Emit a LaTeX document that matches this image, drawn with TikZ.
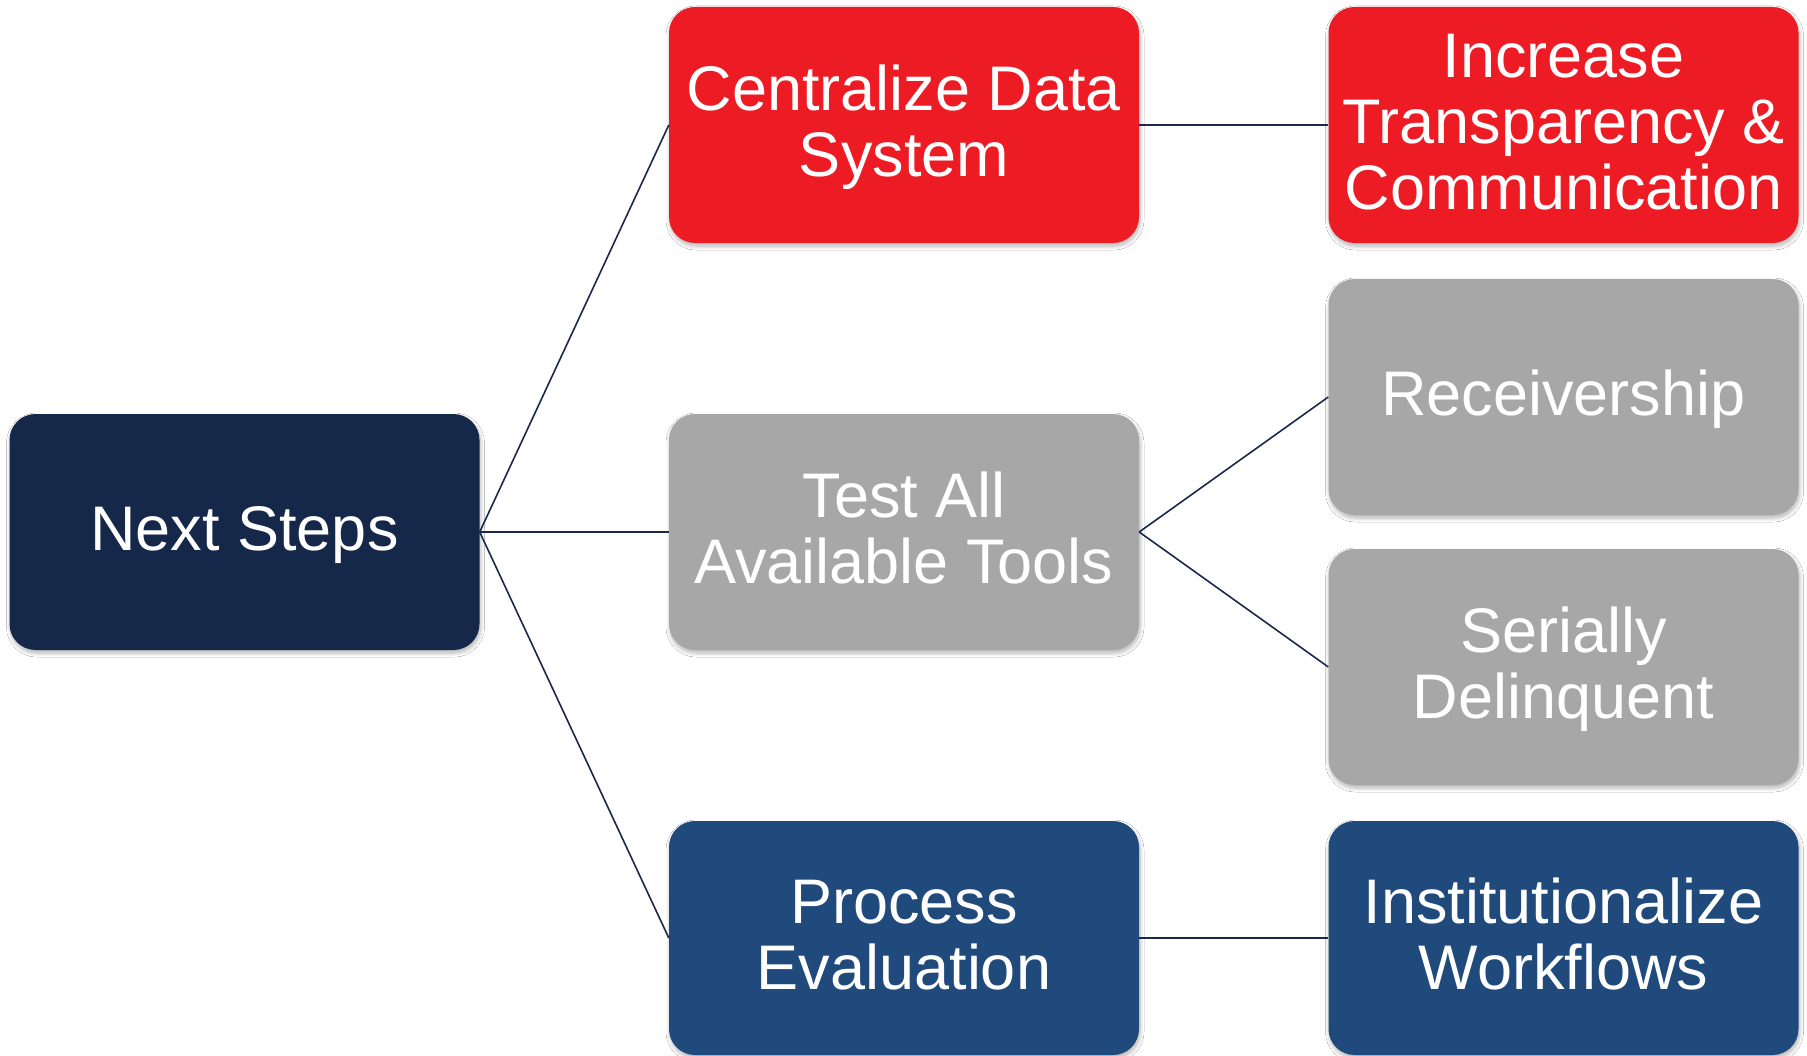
\documentclass[tikz,border=0pt]{standalone}
\usepackage{fontspec}
\setmainfont{Liberation Sans}
\usetikzlibrary{shadows.blur}
\definecolor{navy}{RGB}{22,40,74}
\definecolor{redbox}{RGB}{237,28,36}
\definecolor{graybox}{RGB}{167,167,167}
\definecolor{bluebox}{RGB}{32,74,124}
\definecolor{linecol}{RGB}{27,40,75}
\newcommand\boxtext[1]{\raisebox{-5pt}[\height][\depth]{\begin{tabular}{@{}c@{}}#1\end{tabular}}}
\tikzset{
  box/.style={rectangle, rounded corners=26pt, minimum width=470pt, minimum height=236pt,
    inner sep=0pt, align=center, text=white, font=\fontsize{63}{66}\selectfont,
    blur shadow={shadow xshift=1pt, shadow yshift=-3pt, shadow opacity=30, shadow blur radius=4pt, shadow blur steps=8}},
  navybox/.style={box, fill=navy},
  rbox/.style={box, fill=redbox},
  gbox/.style={box, fill=graybox},
  bbox/.style={box, fill=bluebox},
  conn/.style={draw=linecol, line width=1.6pt}
}
\begin{document}
\begin{tikzpicture}[x=1pt,y=-1pt]
\useasboundingbox[fill=white] (0,0) rectangle (1807,1056);
\node[navybox] (ns) at (244.5,532) {\boxtext{Next Steps}};
\node[rbox] (cd) at (904,125) {\boxtext{Centralize Data\\System}};
\node[gbox] (ta) at (904,532) {\boxtext{Test All\\Available Tools}};
\node[bbox, minimum height=234pt] (pe) at (904,938) {\boxtext{Process\\Evaluation}};
\node[rbox] (it) at (1563.5,125) {\boxtext{Increase\\Transparency \&\\Communication}};
\node[gbox] (rc) at (1563.5,397) {\boxtext{Receivership}};
\node[gbox] (sd) at (1563.5,667) {\boxtext{Serially\\Delinquent}};
\node[bbox, minimum height=234pt] (iw) at (1563.5,938) {\boxtext{Institutionalize\\Workflows}};
\draw[conn] (ns.east) -- (cd.west);
\draw[conn] (ns.east) -- (ta.west);
\draw[conn] (ns.east) -- (pe.west);
\draw[conn] (cd.east) -- (it.west);
\draw[conn] (ta.east) -- (rc.west);
\draw[conn] (ta.east) -- (sd.west);
\draw[conn] (pe.east) -- (iw.west);
\end{tikzpicture}
\end{document}
